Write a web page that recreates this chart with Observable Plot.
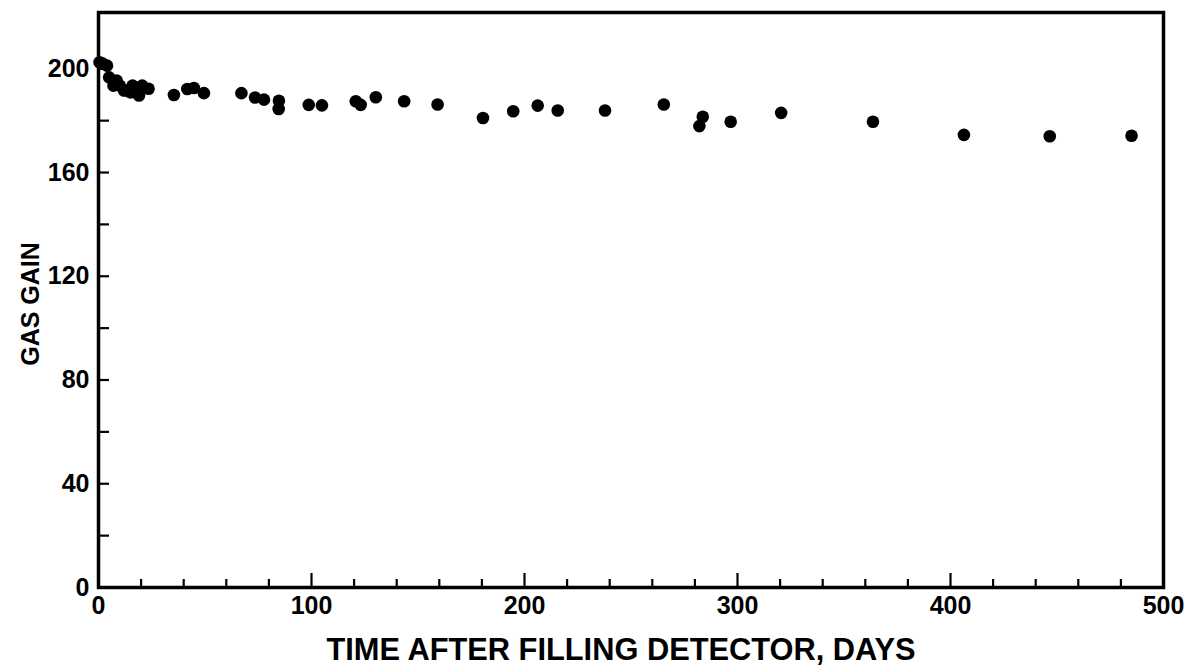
<!DOCTYPE html>
<html>
<head>
<meta charset="utf-8">
<script src="https://cdn.jsdelivr.net/npm/d3@7"></script>
<script src="https://cdn.jsdelivr.net/npm/@observablehq/plot@0.6"></script>
<style>
  html, body { margin: 0; padding: 0; background: #fff; }
  #chart svg { display: block; }
</style>
</head>
<body>
<div id="chart"></div>
<script>
// Time after filling detector (days) and gas gain
const days = [0.5, 2, 4, 5, 7, 8.5, 10, 12, 13.5, 15, 16, 19, 20.5, 23.5,
  35.4, 41.7, 44.8, 49.5, 67.1, 73.5, 77.7, 84.7, 84.6, 98.7, 104.9, 120.8, 123.1,
  130.2, 143.5, 159.2, 180.5, 194.7, 206.2, 215.6, 237.8, 265.4, 282.1, 283.7,
  296.8, 320.5, 363.6, 406.3, 446.6, 485.0];
const gain = [202.5, 202, 201.2, 196.7, 193.5, 195.5, 193.5, 191.6, 191.6, 190.9, 193.5, 189.7, 193.5, 192.3,
  189.9, 192.2, 192.6, 190.6, 190.6, 188.9, 188.1, 187.7, 184.5, 186.1, 185.9, 187.5, 186.1,
  189.0, 187.5, 186.2, 181.0, 183.6, 185.8, 183.9, 183.9, 186.2, 177.9, 181.5,
  179.6, 183.0, 179.6, 174.5, 174.0, 174.2];

const xTickLabels = [0, 100, 200, 300, 400, 500];
const xMinorTicks = [20, 40, 60, 80, 120, 140, 160, 180, 220, 240, 260, 280,
  320, 340, 360, 380, 420, 440, 460, 480];
const yTickLabels = [0, 40, 80, 120, 160, 200];
const yMinorTicks = [20, 60, 100, 140, 180];
const xTitle = "TIME AFTER FILLING DETECTOR, DAYS";
const yTitle = "GAS GAIN";

const data = days.map((d, i) => ({day: d, gain: gain[i]}));

const W = 1199, H = 666;
const mL = 98, mR = 36, mT = 12, mB = 79;
const plotW = W - mL - mR, plotH = H - mT - mB;
const font = "'Liberation Sans', Arial, sans-serif";

const chart = Plot.plot({
  width: W,
  height: H,
  marginLeft: mL,
  marginRight: mR,
  marginTop: mT,
  marginBottom: mB,
  style: {fontFamily: font, fontWeight: "bold", color: "#000", background: "#fff"},
  x: {domain: [0, 500]},
  y: {domain: [0, 221.7]},
  marks: [
    Plot.tickX(xTickLabels, {x: d => d, insetTop: plotH - 14, stroke: "#000", strokeWidth: 2.2}),
    Plot.tickX(xMinorTicks, {x: d => d, insetTop: plotH - 8, stroke: "#000", strokeWidth: 2.2}),
    Plot.tickY(yTickLabels, {y: d => d, insetRight: plotW - 11, stroke: "#000", strokeWidth: 2.2}),
    Plot.tickY(yMinorTicks, {y: d => d, insetRight: plotW - 11, stroke: "#000", strokeWidth: 2.2}),
    Plot.frame({stroke: "#000", strokeWidth: 3.5}),
    Plot.dot(data, {x: "day", y: "gain", r: 6.3, fill: "#000", stroke: "none"}),
    Plot.axisX(xTickLabels, {tickSize: 0, tickPadding: 9, fontSize: 25, fontWeight: "bold", label: null}),
    Plot.axisY(yTickLabels, {tickSize: 0, tickPadding: 9, fontSize: 25, fontWeight: "bold", label: null}),
    Plot.text([xTitle], {text: d => d, frameAnchor: "bottom", dy: 72, dx: -10, fontSize: 30.8, fontWeight: "bold",
      fill: "#000"}),
    Plot.text([yTitle], {text: d => d, frameAnchor: "left", textAnchor: "middle", dx: -68, dy: 4, rotate: -90,
      fontSize: 25, fontWeight: "bold", fill: "#000"})
  ]
});
document.getElementById("chart").appendChild(chart);
</script>
</body>
</html>
